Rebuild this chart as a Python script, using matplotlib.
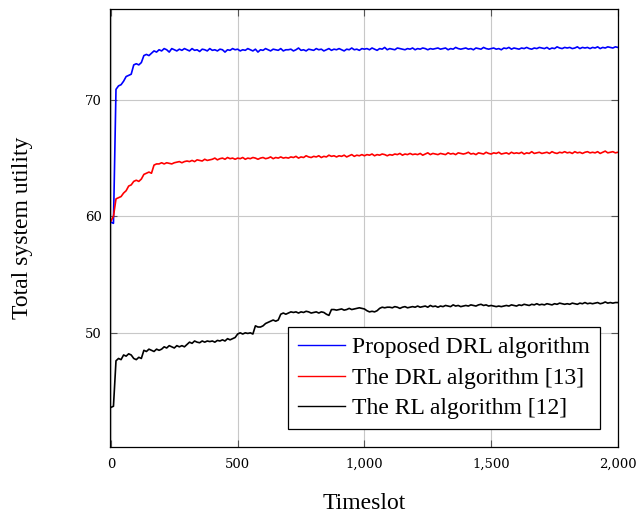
import numpy as np
import matplotlib
matplotlib.use("Agg")
import matplotlib.pyplot as plt
from matplotlib.ticker import FuncFormatter, FixedLocator

timeslots = np.arange(0, 2001, 10)

proposed_drl = [
    59.5, 59.4, 70.9, 71.2, 71.3, 71.6, 72.0, 72.1, 72.2, 73.0,
    73.1, 73.0, 73.2, 73.8, 73.9, 73.8, 74.0, 74.2, 74.1, 74.3,
    74.2, 74.4, 74.3, 74.1, 74.4, 74.3, 74.2, 74.35, 74.25, 74.4,
    74.3, 74.2, 74.4, 74.25, 74.3, 74.15, 74.35, 74.3, 74.2, 74.4,
    74.25, 74.3, 74.2, 74.35, 74.3, 74.1, 74.3, 74.25, 74.4, 74.3,
    74.35, 74.2, 74.3, 74.25, 74.4, 74.3, 74.2, 74.35, 74.1, 74.3,
    74.25, 74.4, 74.3, 74.2, 74.35, 74.3, 74.25, 74.4, 74.2, 74.3,
    74.3, 74.35, 74.2, 74.3, 74.45, 74.25, 74.3, 74.2, 74.35, 74.3,
    74.25, 74.4, 74.3, 74.35, 74.2, 74.3, 74.4, 74.25, 74.35, 74.3,
    74.4, 74.3, 74.2, 74.35, 74.3, 74.45, 74.3, 74.35, 74.25, 74.4,
    74.35, 74.4, 74.3, 74.45, 74.35, 74.25, 74.4, 74.35, 74.5, 74.3,
    74.4, 74.35, 74.3, 74.45, 74.4, 74.35, 74.3, 74.4, 74.35, 74.45,
    74.3, 74.4, 74.35, 74.45, 74.4, 74.3, 74.4, 74.35, 74.4, 74.45,
    74.35, 74.4, 74.45, 74.3, 74.4, 74.35, 74.5, 74.4, 74.35, 74.4,
    74.45, 74.35, 74.4, 74.3, 74.45, 74.4, 74.35, 74.5, 74.4, 74.35,
    74.4, 74.45, 74.35, 74.4, 74.3, 74.45, 74.4, 74.5, 74.35, 74.45,
    74.4, 74.35, 74.45, 74.4, 74.5, 74.4, 74.35, 74.45, 74.4, 74.5,
    74.45, 74.4, 74.5, 74.35, 74.45, 74.4, 74.55, 74.45, 74.4, 74.5,
    74.45, 74.5, 74.4, 74.45, 74.55, 74.4, 74.5, 74.45, 74.5, 74.4,
    74.5, 74.45, 74.55, 74.4, 74.5, 74.45, 74.55, 74.5, 74.45, 74.55,
    74.5,
]

drl_13 = [
    59.6, 60.0, 61.5, 61.6, 61.7, 62.0, 62.2, 62.6, 62.7, 63.0,
    63.1, 63.0, 63.2, 63.6, 63.7, 63.8, 63.7, 64.4, 64.5, 64.5,
    64.6, 64.5, 64.6, 64.55, 64.5, 64.6, 64.65, 64.7, 64.6, 64.7,
    64.75, 64.7, 64.8, 64.7, 64.85, 64.8, 64.75, 64.9, 64.8, 64.85,
    64.9, 65.0, 64.85, 64.95, 65.0, 64.9, 65.05, 64.95, 65.0, 64.9,
    65.0, 64.95, 65.05, 64.9, 65.0, 64.95, 65.05, 65.0, 64.9, 65.0,
    65.05, 64.95, 65.0, 65.1, 64.95, 65.05, 65.0, 65.1, 65.0, 65.05,
    65.0, 65.1, 65.05, 65.15, 65.0, 65.1, 65.05, 65.2, 65.1, 65.05,
    65.15, 65.1, 65.2, 65.05, 65.15, 65.1, 65.25, 65.15, 65.2, 65.1,
    65.2, 65.15, 65.25, 65.1, 65.2, 65.3, 65.15, 65.25, 65.2, 65.3,
    65.2, 65.3, 65.25, 65.35, 65.2, 65.3, 65.25, 65.35, 65.3, 65.2,
    65.3, 65.25, 65.35, 65.3, 65.4, 65.25, 65.35, 65.3, 65.4, 65.3,
    65.35, 65.3, 65.4, 65.25, 65.35, 65.45, 65.3, 65.4, 65.35, 65.3,
    65.4, 65.35, 65.3, 65.45, 65.35, 65.4, 65.3, 65.45, 65.4, 65.35,
    65.4, 65.5, 65.35, 65.4, 65.3, 65.45, 65.4, 65.35, 65.5, 65.4,
    65.35, 65.45, 65.4, 65.5, 65.35, 65.4, 65.45, 65.35, 65.5, 65.4,
    65.45, 65.4, 65.5, 65.35, 65.45, 65.4, 65.55, 65.4, 65.45, 65.5,
    65.4, 65.45, 65.5, 65.4, 65.55, 65.45, 65.4, 65.5, 65.45, 65.55,
    65.45, 65.5, 65.4, 65.55, 65.45, 65.5, 65.4, 65.5, 65.55, 65.45,
    65.5, 65.45, 65.55, 65.4, 65.5, 65.6, 65.45, 65.5, 65.55, 65.45,
    65.5,
]

rl_12 = [
    43.6, 43.7, 47.6, 47.8, 47.7, 48.1, 48.0, 48.2, 48.1, 47.8,
    47.7, 47.9, 47.8, 48.5, 48.4, 48.6, 48.5, 48.4, 48.6, 48.5,
    48.6, 48.8, 48.7, 48.9, 48.8, 48.7, 48.9, 48.8, 48.9, 48.8,
    49.0, 49.2, 49.1, 49.3, 49.2, 49.15, 49.3, 49.2, 49.3, 49.25,
    49.3, 49.2, 49.35, 49.3, 49.4, 49.3, 49.5, 49.4, 49.5, 49.6,
    49.9, 50.0, 49.9, 50.0, 49.95, 50.0, 49.9, 50.6, 50.5, 50.5,
    50.6, 50.8, 50.9, 51.0, 51.1, 51.0, 51.1, 51.6, 51.7, 51.6,
    51.7, 51.8, 51.75, 51.8, 51.7, 51.8, 51.75, 51.85, 51.8, 51.7,
    51.75, 51.8, 51.7, 51.8, 51.75, 51.6, 51.5, 52.0, 52.0, 51.95,
    52.0, 52.05, 51.95, 52.0, 52.1, 52.0, 52.05, 52.1, 52.15, 52.1,
    52.05, 51.9, 51.8, 51.85, 51.8, 51.9, 52.1, 52.2, 52.15, 52.2,
    52.2, 52.15, 52.25, 52.2, 52.1, 52.2, 52.25, 52.15, 52.2, 52.25,
    52.2, 52.3, 52.2, 52.25, 52.3, 52.2, 52.35, 52.25, 52.3, 52.2,
    52.3, 52.25, 52.35, 52.3, 52.25, 52.4, 52.3, 52.35, 52.25, 52.3,
    52.35, 52.3, 52.4, 52.35, 52.3, 52.4, 52.45, 52.35, 52.4, 52.3,
    52.35, 52.3, 52.25, 52.3, 52.25, 52.3, 52.35, 52.3, 52.4, 52.35,
    52.3, 52.4, 52.35, 52.45, 52.4, 52.35, 52.45, 52.4, 52.5, 52.4,
    52.45, 52.4, 52.5, 52.45, 52.4, 52.5, 52.45, 52.55, 52.5, 52.45,
    52.5, 52.45, 52.55, 52.5, 52.45, 52.55, 52.5, 52.6, 52.5, 52.55,
    52.5, 52.55, 52.6, 52.5, 52.55, 52.65, 52.55, 52.6, 52.55, 52.6,
    52.6,
]

series_labels = ["Proposed DRL algorithm", "The DRL algorithm [13]", "The RL algorithm [12]"]
series_colors = ["#0000ff", "#ff0000", "#000000"]
x_ticks = [0, 500, 1000, 1500, 2000]
y_ticks = [50, 60, 70]

plt.rcParams["font.family"] = ["Liberation Serif", "DejaVu Serif"]

fig = plt.figure(figsize=(6.39, 5.16), dpi=100)
ax = fig.add_axes([0.172, 0.1337, 0.795, 0.8489])

for ys, lab, col in zip([proposed_drl, drl_13, rl_12], series_labels, series_colors):
    ax.plot(timeslots, ys, color=col, lw=1.2, label=lab)

ax.set_xlim(-4, 2000)
ax.set_ylim(40.2, 77.8)
ax.xaxis.set_major_locator(FixedLocator(x_ticks))
ax.yaxis.set_major_locator(FixedLocator(y_ticks))
ax.xaxis.set_major_formatter(FuncFormatter(lambda v, p: f"{int(v):,}"))
ax.grid(True, color="#c8c8c8", lw=0.8)
ax.tick_params(direction="in", length=5, width=0.8, color="#555555",
               top=True, right=True, labelsize=9.5)
ax.tick_params(axis="x", pad=8)
ax.tick_params(axis="y", pad=6)
for lbl in ax.get_xticklabels() + ax.get_yticklabels():
    lbl.set_family("DejaVu Serif")
for s in ax.spines.values():
    s.set_linewidth(0.9)

ax.set_xlabel("Timeslot", fontsize=17, labelpad=16)
ax.set_ylabel("Total system utility", fontsize=17, labelpad=37)

leg = ax.legend(loc="lower right", fontsize=17, frameon=True, fancybox=False,
                edgecolor="black", framealpha=1, handlelength=2.0,
                handletextpad=0.3, borderaxespad=0.75, labelspacing=0.38,
                borderpad=0.42)
leg.get_frame().set_linewidth(0.9)
for h in leg.get_lines():
    h.set_linewidth(1.0)

fig.savefig("out.png", dpi=100)
